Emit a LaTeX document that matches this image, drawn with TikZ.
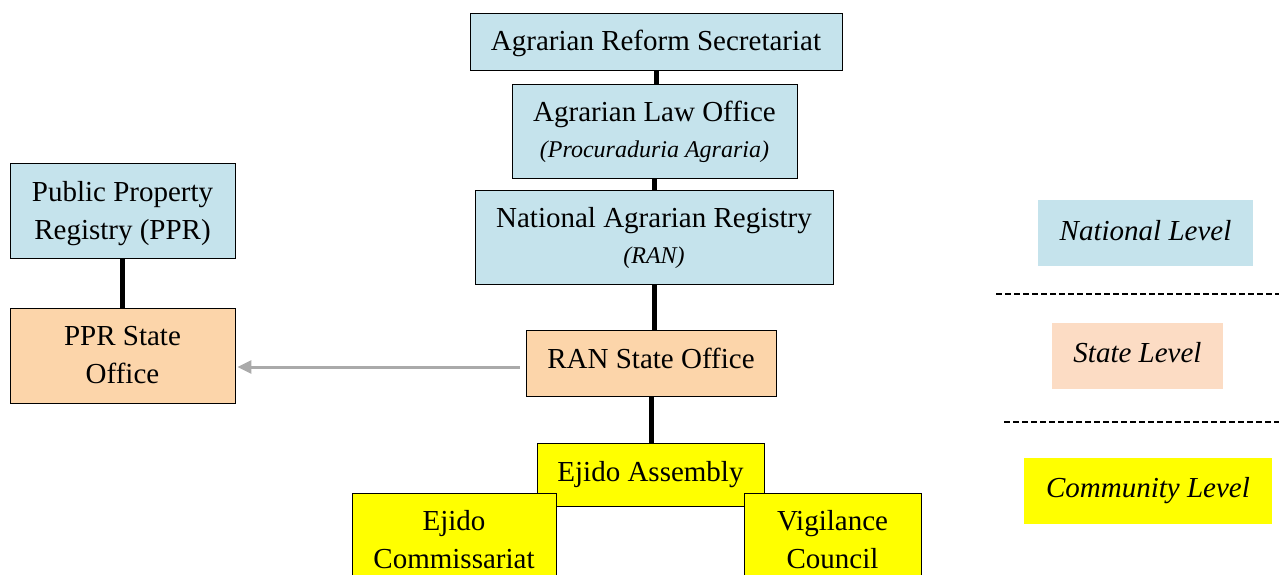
\documentclass[tikz,border=0pt]{standalone}
\usepackage{fontspec}
\setmainfont{Liberation Serif}
\usetikzlibrary{arrows.meta}
\definecolor{natblue}{RGB}{197,227,236}
\definecolor{stpeach}{RGB}{252,213,170}
\definecolor{legpeach}{RGB}{252,220,196}
\definecolor{comyel}{RGB}{255,255,0}
\definecolor{arrgray}{RGB}{170,170,170}
\tikzset{
  box/.style={draw=black, line width=0.9pt, inner sep=0pt, align=center,
    font=\fontsize{29}{38}\selectfont},
  natbox/.style={box, fill=natblue},
  stbox/.style={box, fill=stpeach},
  combox/.style={box, fill=comyel},
  legbox/.style={inner sep=0pt, minimum height=66pt, align=center,
    font=\fontsize{29}{34}\selectfont\itshape},
  link/.style={line width=5pt, black},
  dashline/.style={line width=1.4pt, dash pattern=on 6pt off 3pt},
}
\newcommand{\subtext}[1]{{\fontsize{24}{38}\selectfont\itshape #1}}
\begin{document}
\begin{tikzpicture}[x=1pt,y=-1pt]
\clip (0,0) rectangle (1279,575);
\fill[white] (0,0) rectangle (1279,575);
% national
\node[natbox, minimum width=372pt, minimum height=57pt] (ars) at (656,41.5) {\rule{0pt}{25pt}Agrarian Reform Secretariat};
\node[natbox, minimum width=285pt, minimum height=94pt] (alo) at (654.5,131) {\rule{0pt}{22pt}Agrarian Law Office\\[-2pt]\subtext{(Procuraduria Agraria)}};
\node[natbox, minimum width=358pt, minimum height=94pt] (nar) at (654,237) {\rule{0pt}{22pt}National Agrarian Registry\\[-2pt]\subtext{(RAN)}};
\node[natbox, minimum width=225pt, minimum height=95pt] (ppr) at (122.5,210.5) {\rule{0pt}{26pt}Public Property\\Registry (PPR)};
% state
\node[stbox, minimum width=250pt, minimum height=66pt] (ran) at (651,363) {RAN State Office\rule[-10pt]{0pt}{0pt}};
\node[stbox, minimum width=225pt, minimum height=95pt] (pprs) at (122.5,355.5) {PPR State\\Office};
% community
\node[combox, minimum width=227pt, minimum height=63pt] (ea) at (650.5,474.5) {Ejido Assembly};
\node[combox, minimum width=204pt, minimum height=130pt, anchor=north] (ec) at (454,493) {};
\node[align=center, font=\fontsize{29}{38}\selectfont, anchor=north, inner sep=0pt] (ectext) at (454,510) {Ejido\\Commissariat};
\node[combox, minimum width=177pt, minimum height=130pt, anchor=north] (vc) at (832.5,493) {};
\node[align=center, font=\fontsize{29}{38}\selectfont, anchor=north, inner sep=0pt] (vctext) at (832.5,510) {Vigilance\\Council};
% connectors
\draw[link] (ars.south) -- (ars.south |- alo.north);
\draw[link] (alo.south) -- (alo.south |- nar.north);
\draw[link] (nar.south) -- (nar.south |- ran.north);
\draw[link] (ran.south) -- (ran.south |- ea.north);
\draw[link] (ppr.south) -- (pprs.north);
\coordinate (arrstart) at ([xshift=-6pt,yshift=-4pt]ran.west);
\draw[arrgray, line width=3pt, -{Triangle[length=14pt,width=13pt]}, shorten >=2pt] (arrstart) -- (arrstart -| pprs.east);
% legend
\node[legbox, fill=natblue, minimum width=215pt] (nl) at (1145.5,233) {National Level\rule[-6pt]{0pt}{0pt}};
\node[legbox, fill=legpeach, minimum width=171pt] (sl) at (1137.5,356) {State Level\rule[-8pt]{0pt}{0pt}};
\node[legbox, fill=comyel, minimum width=248pt] (cl) at (1148,491) {Community Level};
\coordinate (d1a) at (996,294);
\coordinate (d1b) at (1279,294);
\coordinate (d2a) at (1004,422);
\coordinate (d2b) at (1279,422);
\draw[dashline] (d1a) -- (d1b);
\draw[dashline] (d2a) -- (d2b);
\end{tikzpicture}
\end{document}
